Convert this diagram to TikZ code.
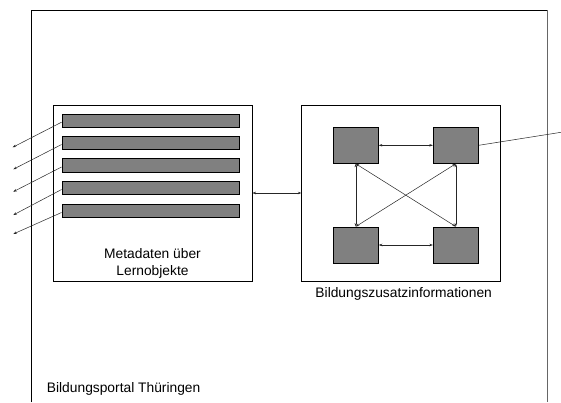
\documentclass[tikz,border=0pt]{standalone}
\usepackage{fontspec}
\setmainfont{Liberation Sans}
\usetikzlibrary{arrows.meta}
\begin{document}
\begin{tikzpicture}[x=1pt,y=-1pt,
  box/.style={draw=black,line width=0.9pt,fill=white,inner sep=0pt},
  bar/.style={draw=black,line width=0.9pt,fill=black!50,minimum width=177pt,minimum height=13.5pt,inner sep=0pt},
  sq/.style={draw=black,line width=0.9pt,fill=black!50,minimum width=45pt,minimum height=36pt,inner sep=0pt},
  conn/.style={line width=0.5pt,draw=black!85},
  tip/.style={-{Stealth[length=3.5pt,width=2.5pt]}},
  bitip/.style={{Stealth[length=3.5pt,width=2.5pt]}-{Stealth[length=3.5pt,width=2.5pt]}},
  lbl/.style={font=\fontsize{13.8}{16}\selectfont,inner sep=0pt}]
\useasboundingbox (0,0) rectangle (561,402);
\fill[white] (0,0) rectangle (561,402);
% outer frame
\coordinate (ol) at (31,402);
\coordinate (otl) at (31,10);
\coordinate (otr) at (547,10);
\coordinate (or) at (547,402);
\draw[line width=1pt] (ol) -- (otl) -- (otr);
\draw[line width=1pt,draw=black!60] (otr) -- (or);
\node[lbl,anchor=base west] (portal) at (46.7,392) {Bildungsportal Thüringen};
% left box
\node[box,minimum width=199pt,minimum height=176pt] (meta) at (152.5,193) {};
\node[bar] (b1) at (150.5,120.7) {};
\node[bar] (b2) at (150.5,143) {};
\node[bar] (b3) at (150.5,165.5) {};
\node[bar] (b4) at (150.5,188) {};
\node[bar] (b5) at (150.5,211) {};
\node[lbl,anchor=base] (mt1) at (152.5,258.3) {Metadaten über};
\node[lbl,anchor=base] (mt2) at (152.5,275) {Lernobjekte};
\coordinate (e1) at (12.7,147.3);
\coordinate (e2) at (13.3,169.3);
\coordinate (e3) at (13.3,191.7);
\coordinate (e4) at (13.3,215);
\coordinate (e5) at (13.3,234);
\foreach \i in {1,...,5}{\draw[conn,tip] ([yshift=-1.5pt]b\i.west) -- (e\i);}
% right box
\node[box,minimum width=199pt,minimum height=176pt] (bzi) at (401.3,193) {};
\node[lbl,anchor=base] (bzt) at (403.7,297.3) {Bildungszusatzinformationen};
\node[sq] (s1) at (355.8,145.3) {};
\node[sq] (s2) at (455.8,145.3) {};
\node[sq] (s3) at (355.8,245) {};
\node[sq] (s4) at (455.8,245) {};
\draw[conn,bitip] (s1.east) -- (s2.west);
\draw[conn,bitip] (s3.east) -- (s4.west);
\draw[conn,bitip] (s1.south) -- (s3.north);
\draw[conn,bitip] (s2.south) -- (s4.north);
\draw[conn,bitip] (s1.south) -- (s4.north);
\draw[conn,bitip] (s2.south) -- (s3.north);
\coordinate (ext) at (561,132.3);
\draw[conn] (s2.east) -- (ext);
% connection between boxes
\draw[conn,bitip] (meta.east) -- (bzi.west);
\end{tikzpicture}
\end{document}
